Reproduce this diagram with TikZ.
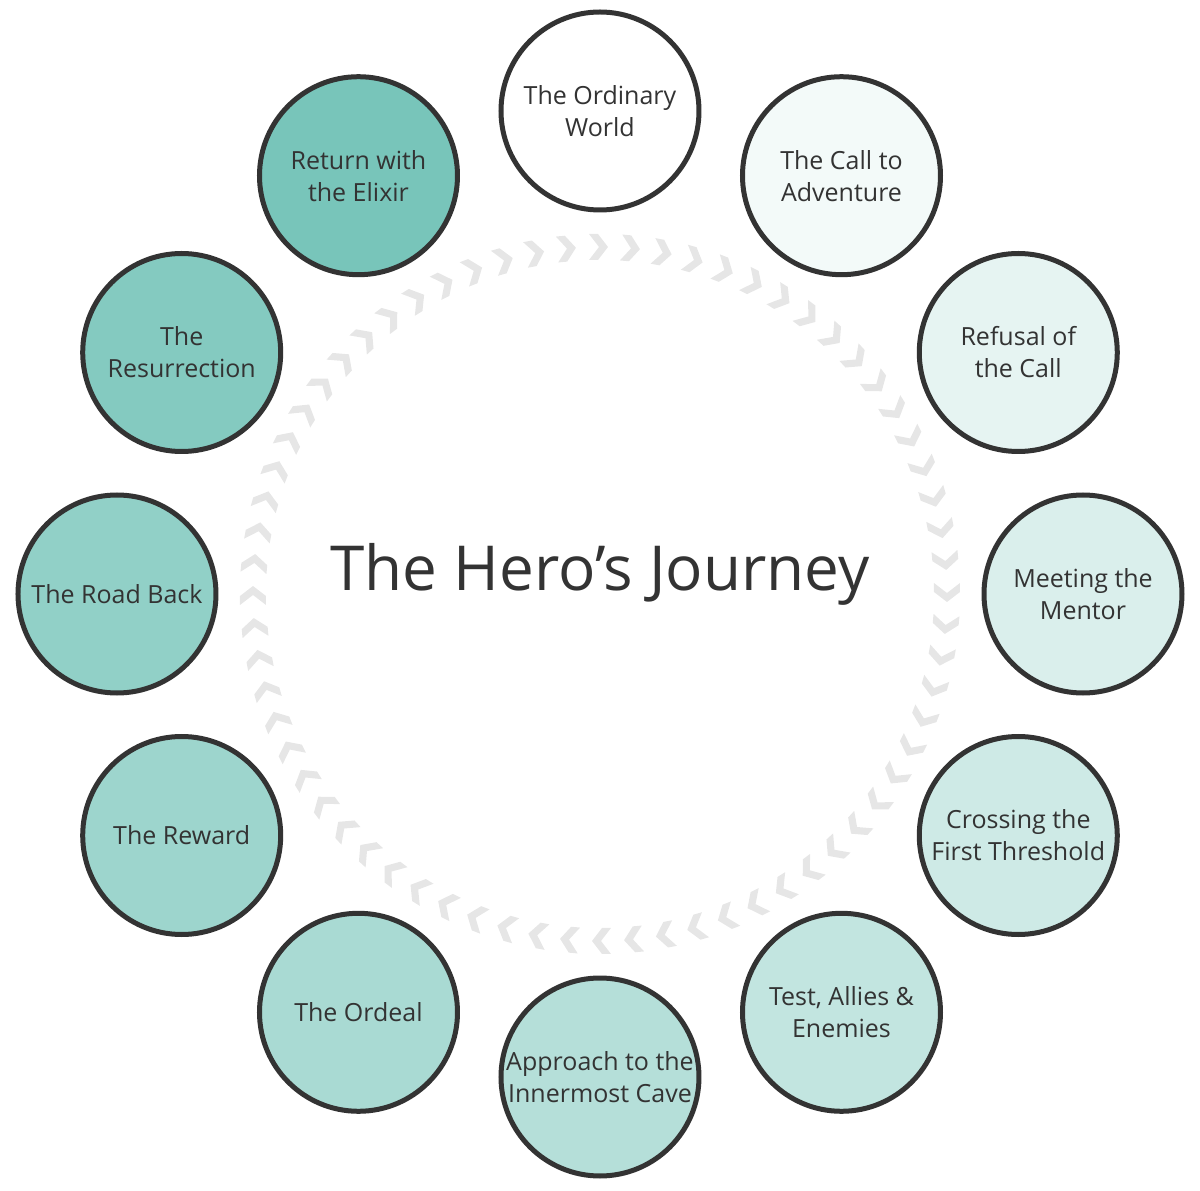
\documentclass[tikz,border=0pt]{standalone}
\usepackage{fontspec}
\setmainfont{Open Sans}
\definecolor{ink}{HTML}{333333}
\definecolor{teal0}{HTML}{78C5BA}
\definecolor{chevc}{HTML}{E6E6E6}
\begin{document}
\begin{tikzpicture}[x=1pt,y=1pt,
  stage/.style={circle,draw=ink,line width=5pt,minimum size=198pt,inner sep=0pt,align=center,text=ink,font=\fontsize{25}{32}\selectfont},
  chev/.style={fill=chevc}]
\useasboundingbox (-600pt,-597pt) rectangle (600pt,594pt);
\foreach \i in {0,...,67}{
  \pgfmathsetmacro{\a}{90-\i*5.294118}
  \begin{scope}[shift={(\a:347pt)},rotate=\a-90]
    \fill[chev] (-11pt,-13pt)--(-2pt,-13pt)--(8pt,0pt)--(-2pt,13pt)--(-11pt,13pt)--(-1pt,0pt)--cycle;
  \end{scope}
}
\node[text=ink,font=\fontsize{62}{70}\selectfont] (title) at (0pt,20pt) {The Hero’s Journey};
\foreach \i/\t/\n in {0/{The Ordinary\\World}/s0,1/{The Call to\\Adventure}/s1,2/{Refusal of\\the Call}/s2,3/{Meeting the\\Mentor}/s3,4/{Crossing the\\First Threshold}/s4,5/{Test, Allies \&\\Enemies}/s5,6/{Approach to the\\Innermost Cave}/s6,7/{The Ordeal}/s7,8/{The Reward}/s8,9/{The Road Back}/s9,10/{The\\Resurrection}/s10,11/{Return with\\the Elixir}/s11}{
  \pgfmathsetmacro{\m}{\i*100/11}
  \pgfmathsetmacro{\b}{90-\i*30}
  \node[stage,fill=teal0!\m!white] (\n) at (\b:483pt) {\t};
}
\end{tikzpicture}
\end{document}
